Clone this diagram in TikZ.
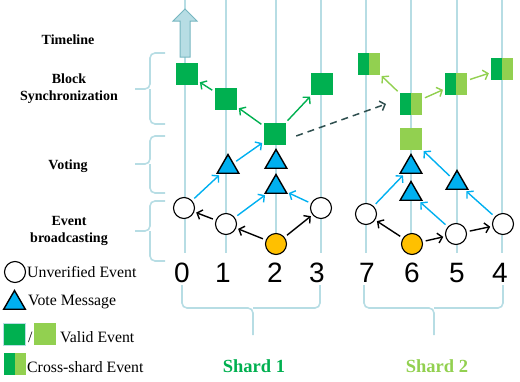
\documentclass[tikz,border=0pt]{standalone}
\usepackage{fontspec}
\setmainfont{Liberation Serif}
\newfontfamily\digitfont{Liberation Sans}
\usepackage{tikz}
\usetikzlibrary{shapes.geometric, arrows.meta, positioning}
\definecolor{linecol}{RGB}{183,221,228}
\definecolor{arrowedge}{RGB}{118,182,192}
\definecolor{dgreen}{RGB}{0,176,80}
\definecolor{lgreen}{RGB}{146,208,80}
\definecolor{voteblue}{RGB}{0,176,240}
\definecolor{evorange}{RGB}{255,192,0}
\definecolor{dashcol}{RGB}{47,79,79}

\begin{document}
\begin{tikzpicture}[x=1pt, y=-1pt,
  vline/.style={draw=linecol, line width=1.6pt},
  brace/.style={draw=linecol, line width=1.6pt, rounded corners=5pt},
  unv/.style={circle, draw, fill=white, line width=1.1pt, minimum size=21pt, inner sep=0pt},
  src/.style={unv, fill=evorange},
  vote/.style={regular polygon, regular polygon sides=3, draw, fill=voteblue, line width=1.4pt, minimum size=25pt, inner sep=0pt},
  valid/.style={rectangle, minimum size=22pt, inner sep=0pt, fill=dgreen},
  validl/.style={valid, fill=lgreen},
  cross/.style={valid, fill=lgreen, path picture={\fill[dgreen] (path picture bounding box.south west) rectangle (path picture bounding box.north);}},
  arr/.style={line width=1.4pt, -{Straight Barb[length=4.5pt,width=10pt]}, shorten <=3pt, shorten >=2pt},
  barr/.style={arr, draw=black},
  varr/.style={arr, draw=voteblue},
  garr/.style={arr, draw=dgreen},
  larr/.style={arr, draw=lgreen},
  dasharr/.style={line width=1.5pt, draw=dashcol, dash pattern=on 7pt off 5pt, -{Straight Barb[length=4.5pt,width=10pt]}},
  phase/.style={font=\fontsize{14}{17}\selectfont\bfseries, align=center},
  legtext/.style={font=\fontsize{15.8}{18}\selectfont, anchor=base west, inner sep=0pt},
  digit/.style={font=\digitfont\fontsize{28}{30}\selectfont, anchor=base, inner sep=0pt},
  shardlbl/.style={font=\fontsize{18.5}{20}\selectfont\bfseries, anchor=base, inner sep=0pt}]
\useasboundingbox (0,0) rectangle (520,381);

\draw[vline] (185,0) -- (185,253);
\draw[vline] (226,0) -- (226,253);
\draw[vline] (276,0) -- (276,253);
\draw[vline] (321,0) -- (321,253);
\draw[vline] (366,0) -- (366,253);
\draw[vline] (411,0) -- (411,253);
\draw[vline] (457,0) -- (457,253);
\draw[vline] (502,0) -- (502,253);

\draw[fill=linecol, draw=arrowedge, line width=1pt] (180,57) -- (180,21) -- (173,21) -- (185,9) -- (197,21) -- (190,21) -- (190,57) -- cycle;

\draw[brace] (165,53) -- (150,53) -- (150,89) -- (135,89);
\draw[brace] (150,89) -- (150,124) -- (165,124);
\draw[brace] (165,136) -- (150,136) -- (150,164) -- (135,164);
\draw[brace] (150,164) -- (150,193) -- (165,193);
\draw[brace] (165,201) -- (150,201) -- (150,231) -- (135,231);
\draw[brace] (150,231) -- (150,261) -- (165,261);

\draw[brace] (182,285) -- (182,308) -- (253,308) -- (253,335);
\draw[brace] (253,308) -- (320,308) -- (320,285);
\draw[brace] (364,285) -- (364,308) -- (434,308) -- (434,335);
\draw[brace] (434,308) -- (503,308) -- (503,285);

\node[phase] (timeline) at (68,40) {Timeline};
\node[phase] (blocksync) at (69,89) {Block\\Synchronization};
\node[phase] (voting) at (68,166) {Voting};
\node[phase] (evbroad) at (69,231) {Event\\broadcasting};

\node[digit] (d0) at (182,282) {0};
\node[digit] (d1) at (223,282) {1};
\node[digit] (d2) at (275,282) {2};
\node[digit] (d3) at (317,282) {3};
\node[digit] (d7) at (367,282) {7};
\node[digit] (d6) at (412,282) {6};
\node[digit] (d5) at (457,282) {5};
\node[digit] (d4) at (500,282) {4};

\node[shardlbl, text=dgreen] (shard1) at (254,372) {Shard 1};
\node[shardlbl, text=lgreen] (shard2) at (437,372) {Shard 2};

\node[unv] (c0) at (184,208) {};
\node[unv] (c1) at (226,224) {};
\node[unv] (c3) at (321,208) {};
\node[src] (o2) at (276,244) {};
\node[vote] (t1) at (228,167) {};
\node[vote] (t2a) at (276,162) {};
\node[vote] (t2b) at (276,187) {};
\node[valid] (s0) at (187,74) {};
\node[valid] (s1) at (226,99) {};
\node[valid] (s2) at (275,134) {};
\node[valid] (s3) at (322,84) {};

\node[unv] (c7) at (366,214) {};
\node[src] (o6) at (412,244) {};
\node[unv] (c5) at (456,234) {};
\node[unv] (c4) at (503,224) {};
\node[vote] (t6a) at (411,167) {};
\node[vote] (t6b) at (411,194) {};
\node[vote] (t5) at (457,183) {};
\node[validl] (v6) at (411,139) {};
\node[cross] (x6) at (411,104) {};
\node[cross] (x7) at (369,64) {};
\node[cross] (x5) at (456,84) {};
\node[cross] (x4) at (502,69) {};

\draw[barr] (o2) -- (c1);
\draw[barr] (o2) -- (c3);
\draw[barr] (c1) -- (c0);
\draw[barr] (o6) -- (c7);
\draw[barr] (o6) -- (c5);
\draw[barr] (c5) -- (c4);

\draw[varr] (c0) -- (t1);
\draw[varr] (t1) -- (s2);
\draw[varr] (c1) -- (t2b);
\draw[varr] (c3) -- (t2b);
\draw[varr] (c7) -- (t6a);
\draw[varr] (c5) -- (t6b);
\draw[varr] (c4) -- (t5);
\draw[varr] (t5) -- (v6);

\draw[garr] (s2) -- (s1);
\draw[garr] (s1) -- (s0);
\draw[garr] (s2) -- (s3);
\draw[larr] (x6) -- (x7);
\draw[larr] (x6) -- (x5);
\draw[larr] (x5) -- (x4);

\coordinate (dashend) at (386,104);
\draw[dasharr] ([xshift=10pt,yshift=-2pt]s2.east) -- (dashend);

\node[unv] (lgcirc) at (15,272) {};
\node[legtext] (lgunv) at (27,277) {Unverified Event};
\node[vote] (lgtri) at (14.5,303) {};
\node[legtext] (lgvote) at (28,305) {Vote Message};
\node[valid, draw=linecol, line width=1pt] (lgval) at (14.5,334) {};
\node[legtext] (lgslash) at (28,342) {/};
\node[validl] (lgvall) at (44.5,334) {};
\node[legtext] (lgvalid) at (60,342) {Valid Event};
\node[cross] (lgcross) at (15,363.5) {};
\node[legtext] (lgcrosst) at (27,372) {Cross-shard Event};
\end{tikzpicture}
\end{document}
